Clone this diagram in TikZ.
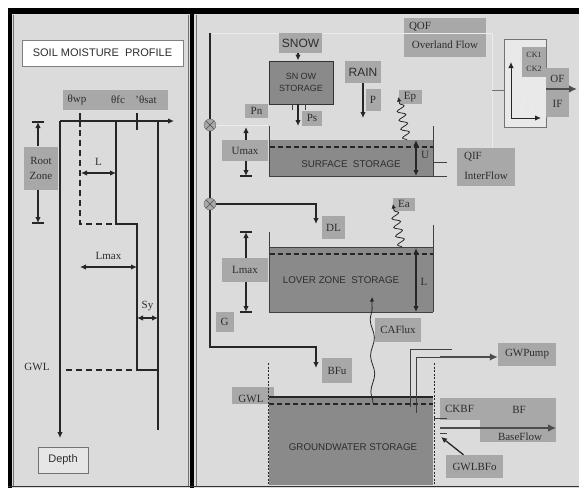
\documentclass[tikz,border=0pt]{standalone}
\usepackage{fontspec}
\setmainfont{Liberation Serif}
\setsansfont{Liberation Sans}
\usetikzlibrary{arrows.meta,decorations.pathmorphing,positioning}
\definecolor{panelgray}{RGB}{219,219,219}
\definecolor{labelgray}{RGB}{168,168,168}
\definecolor{tankgray}{RGB}{138,138,138}
\definecolor{inkgray}{RGB}{45,45,45}
\definecolor{faintgray}{RGB}{236,236,236}

\begin{document}
\begin{tikzpicture}[x=1pt, y=-1pt,
    font=\fontsize{11}{12}\selectfont,
    lbl/.style={fill=labelgray, inner sep=1pt, text=inkgray, align=center},
    sanslbl/.style={lbl, font=\sffamily\fontsize{12}{13}\selectfont},
    tank/.style={fill=tankgray, inner sep=0pt},
    tanktext/.style={text=inkgray, font=\sffamily\fontsize{9.8}{10}\selectfont},
    junc/.style={circle, draw=black!60, fill=labelgray, minimum size=12pt, inner sep=0pt,
      path picture={\draw[black!70] (path picture bounding box.north west) -- (path picture bounding box.south east)
        (path picture bounding box.north east) -- (path picture bounding box.south west);}},
    ln/.style={line width=1.3pt, black!85},
    arr/.style={ln, -{Latex[length=6pt, width=5.5pt]}},
    dblarr/.style={ln, {Latex[length=6pt, width=5.5pt]}-{Latex[length=6pt, width=5.5pt]}},
    wdash/.style={ln, dash pattern=on 5pt off 3pt},
    bigdash/.style={line width=1.9pt, black!85, dash pattern=on 6pt off 4pt},
    gwdot/.style={line width=1pt, black!85, dash pattern=on 2pt off 1.5pt},
    wave/.style={line width=0.8pt, black!85, decorate,
      decoration={snake, amplitude=4pt, segment length=9pt, post length=3pt},
      -{Latex[length=4.5pt, width=4.5pt]}},
    outflow/.style={line width=2.2pt, black!70, -{Latex[length=8pt, width=7.5pt]}},
    thinln/.style={line width=0.7pt, black!75}
  ]
  % frame
  \fill[white] (0,0) rectangle (579,488);
  \useasboundingbox (0,0) rectangle (579,488);
  \fill[panelgray] (8,8) rectangle (579,488);
  \fill[black] (8,8) rectangle (579,14);
  \fill[black] (8,8) rectangle (12,488);
  \fill[black] (190,14) rectangle (194,488);
  \draw[black!55, line width=0.6pt] (13.5,15) -- (13.5,486) (188,15) -- (188,486) (196,15) -- (196,486);
  \draw[black!80, line width=0.8pt] (8,486.5) -- (579,486.5);

  % ---------- soil moisture profile ----------
  \node[draw=black!50, fill=white, minimum width=161pt, minimum height=26pt, inner sep=0pt,
    text=inkgray, font=\sffamily\fontsize{11}{12}\selectfont] (title) at (102.5,53) {SOIL MOISTURE\ \ PROFILE};
  \node[lbl, minimum width=105pt, minimum height=20pt] (thetas) at (115.5,100) {};
  \node[text=inkgray, inner sep=0pt] (thwp) at (77,100) {θwp};
  \node[text=inkgray, inner sep=0pt] (thfc) at (118,100) {θfc};
  \node[text=inkgray, inner sep=0pt] (thsat) at (146,100) {'θsat};

  \coordinate (orig) at (60,121);
  \coordinate (thend) at (174,121);
  \coordinate (dpend) at (60,438);
  \draw[arr] (orig) -- (thend);
  \draw[arr] (orig) -- (dpend);

  % profile lines
  \draw[ln] (80,113) -- (80,127);
  \draw[bigdash] (80,130) -- (80,224) -- (116,224);
  \draw[ln] (116,121) -- (116,224) -- (137,224) -- (137,370);
  \draw[ln] (137,113) -- (137,130);
  \draw[ln] (158,121) -- (158,430);
  \draw[bigdash] (66,370) -- (137,370);
  \draw[ln] (137,370) -- (158,370);

  \draw[dblarr] (81,173) -- node[above=4pt, text=inkgray] (lsoil) {L} (116,173);
  \draw[dblarr] (80,267) -- node[above=3pt, text=inkgray] (lmaxsoil) {Lmax} (137,267);
  \draw[dblarr] (137,318) -- node[above=3pt, text=inkgray] (sy) {Sy} (158,318);

  \node[lbl, minimum width=34pt, minimum height=43pt, font=\fontsize{11}{15}\selectfont] (root) at (41,168) {Root\\Zone};
  \coordinate (roottop) at (38,122);
  \coordinate (rootbot) at (38,223);
  \draw[arr] (root.north -| roottop) -- (roottop);
  \draw[arr] (root.south -| rootbot) -- (rootbot);
  \draw[ln] ([xshift=-6pt]roottop) -- ([xshift=6pt]roottop);
  \draw[ln] ([xshift=-6pt]rootbot) -- ([xshift=6pt]rootbot);

  \node[text=inkgray, inner sep=0pt] (gwlsoil) at (37,367) {GWL};
  \node[draw=black!55, fill=panelgray!70!white, minimum width=50pt, minimum height=26pt, inner sep=0pt,
    text=inkgray, font=\sffamily\fontsize{11}{12}\selectfont] (depth) at (63,460) {Depth};

  % ---------- storages ----------
  \draw[faintgray, line width=0.8pt] (212,33) -- (492,33) -- (492,166);

  \node[tank, minimum width=164pt, minimum height=36pt] (surf) at (351,158) {};
  \node[tanktext] (surftext) at (351,164) {SURFACE\ \ STORAGE};
  \node[tank, minimum width=164pt, minimum height=65pt] (lower) at (351,279.5) {};
  \node[tanktext] (lowertext) at (341,280) {LOVER ZONE\ \ STORAGE};
  \node[lbl, minimum width=42pt, minimum height=17pt] (gwl) at (253,395) {};
  \node[text=inkgray, inner sep=0pt] at (251,399) {GWL};
  \node[tank, minimum width=164pt, minimum height=88pt] (ground) at (351,441) {};
  \node[tanktext] (groundtext) at (353,447) {GROUNDWATER STORAGE};

  % tank walls and levels
  \draw[thinln] (269,126) -- (269,176) -- (447,176);
  \draw[thinln] (433,126) -- (433,176);
  \draw[thinln] (433,162) -- (447,162);
  \draw[wdash] (270,147) -- (433,147);
  \draw[dblarr] (416,140) -- (416,176);
  \node[text=inkgray, inner sep=0pt] (u) at (425,155) {U};

  \draw[thinln] (269,232) -- (269,312) -- (433,312);
  \draw[thinln] (433,225) -- (433,312);
  \draw[thinln] (269,247) -- (433,247);
  \draw[wdash] (270,254) -- (433,254);
  \draw[dblarr] (416,248) -- (416,312);
  \node[text=inkgray, inner sep=0pt] (l) at (424,282) {L};

  \draw[ln] (269,397) -- (433,397);
  \draw[wdash] (269,404) -- (433,404);
  \draw[gwdot] (268,363) -- (268,486);
  \draw[gwdot] (434,363) -- (434,486);

  % ---------- snow and rain ----------
  \node[sanslbl, minimum width=43pt, minimum height=20pt] (snow) at (300.5,43) {SNOW};
  \node[draw=black!80, fill=tankgray, line width=0.9pt, minimum width=64pt, minimum height=43pt, inner sep=0pt,
    align=center, text=inkgray, font=\sffamily\fontsize{9}{12}\selectfont] (snowst) at (301,82.5) {SN OW\\STORAGE};
  \draw[arr] (snow.south -| 298,0) -- (snowst.north -| 298,0);
  \node[lbl, minimum width=20pt, minimum height=15pt] (ps) at (312,118) {Ps};
  \coordinate (psend) at (298,126);
  \draw[arr] (snowst.south -| psend) -- (psend);
  \draw[thinln] (292,104) -- (292,110) (305,104) -- (305,110);
  \node[lbl, minimum width=23pt, minimum height=14pt] (pn) at (256.5,111) {Pn};

  \node[sanslbl, minimum width=36pt, minimum height=22pt] (rain) at (363,72) {RAIN};
  \node[lbl, minimum width=15pt, minimum height=22pt] (p) at (373,100) {P};
  \coordinate (pend) at (363,118);
  \draw[arr] (rain.south -| pend) -- (pend);

  \node[lbl, minimum width=23pt, minimum height=14pt] (ep) at (410,97) {Ep};
  \coordinate (epbase) at (407,140);
  \draw[wave] (epbase) -- (ep.west);
  \node[lbl, minimum width=22pt, minimum height=13pt] (ea) at (404,204) {Ea};
  \coordinate (eabase) at (402,247);
  \draw[wave] (eabase) -- (ea.west);

  % ---------- routing line ----------
  \coordinate (vtop) at (210,33);
  \node[junc] (j1) at (210,125) {};
  \node[junc] (j2) at (210,204) {};
  \coordinate (vbot) at (210,347);
  \draw[ln] (vtop) -- (j1);
  \draw[ln] (j1) -- (j2);
  \draw[faintgray, line width=0.8pt] (j1) -- (268,125);

  \node[lbl, minimum width=23pt, minimum height=23pt] (dl) at (333.5,227.5) {DL};
  \coordinate (dlend) at (316,224);
  \draw[arr] (j2) -| (dlend);
  \node[lbl, minimum width=30pt, minimum height=25pt] (bfu) at (337,370.5) {BFu};
  \coordinate (bfuend) at (316,368);
  \draw[arr] (j2) -- (vbot) -| (bfuend);

  \node[lbl, minimum width=46pt, minimum height=21pt] (umax) at (245,150.5) {Umax};
  \coordinate (umaxtop) at (246,127);
  \coordinate (umaxbot) at (246,176);
  \draw[arr] (umax.north -| umaxtop) -- (umaxtop);
  \draw[arr] (umax.south -| umaxbot) -- (umaxbot);
  \draw[ln] ([xshift=-6pt]umaxbot) -- ([xshift=6pt]umaxbot);

  \node[lbl, minimum width=46pt, minimum height=24pt] (lmax) at (245,270) {Lmax};
  \coordinate (lmaxtop) at (246,232);
  \coordinate (lmaxbot) at (246,312);
  \draw[arr] (lmax.north -| lmaxtop) -- (lmaxtop);
  \draw[arr] (lmax.south -| lmaxbot) -- (lmaxbot);
  \draw[ln] ([xshift=-6pt]lmaxtop) -- ([xshift=6pt]lmaxtop);
  \draw[ln] ([xshift=-6pt]lmaxbot) -- ([xshift=6pt]lmaxbot);

  \node[lbl, minimum width=18pt, minimum height=20pt] (g) at (224.5,322) {G};

  % ---------- capillary flux ----------
  \node[lbl, minimum width=46pt, minimum height=24pt] (caflux) at (398,330) {CAFlux};
  \coordinate (cabase) at (373,403);
  \coordinate (catop) at (372,297);
  \draw[line width=0.8pt, black!85, decorate,
    decoration={snake, amplitude=2pt, segment length=36pt, post length=4pt},
    -{Latex[length=4.5pt, width=4.5pt]}] (cabase) -- (catop);

  % ---------- surface outflow ----------
  \node[lbl, minimum width=82pt, minimum height=15pt, text depth=0pt, align=left] (oof) at (445,25.5) {QOF\hspace{50pt}};
  \node[lbl, minimum width=82pt, minimum height=23pt] (overland) at (445,45) {Overland Flow};
  \node[lbl, minimum width=58pt, minimum height=19pt] (qif) at (486,157) {QIF\hspace{26pt}};
  \node[lbl, minimum width=58pt, minimum height=19pt] (interflow) at (486,176) {InterFlow};

  \node[draw=black!55, fill=panelgray!60!white, line width=0.8pt, minimum width=42pt, minimum height=88pt] (ck) at (525,83) {};
  \coordinate (ckorig) at (511,118);
  \coordinate (cky) at (511,62);
  \coordinate (ckx) at (541,118);
  \draw[white!80!labelgray, line width=0.6pt] (514,118) .. controls (524,118) and (523,92) .. (527,92) .. controls (531,92) and (530,118) .. (540,118);
  \draw[arr, line width=1pt] (ckorig) -- (cky);
  \draw[arr, line width=1pt] (ckorig) -- (ckx);
  \node[lbl, minimum width=24pt, minimum height=30pt, font=\fontsize{8}{14}\selectfont] (cklbl) at (534,62) {CK1\\CK2};
  \draw[black!55, line width=1pt] (492,90) -- (ck.west |- 0,90);

  \node[lbl, minimum width=23pt, minimum height=21pt] (of) at (557.5,78.5) {OF};
  \node[lbl, minimum width=23pt, minimum height=27pt] (if) at (557.5,103.5) {IF};
  \coordinate (ofend) at (577,89);
  \draw[outflow] (ck.east |- ofend) -- (ofend);

  % ---------- groundwater outflow ----------
  \draw[thinln] (410,407) -- (410,349) -- (452,349);
  \draw[thinln] (416,413) -- (416,357) -- (440,357);
  \node[lbl, minimum width=58pt, minimum height=23pt] (gwpump) at (527,354) {GWPump};
  \coordinate (pumpstart) at (440,357);
  \draw[outflow] (pumpstart) -- (gwpump.west |- pumpstart);

  \node[lbl, minimum width=40pt, minimum height=22pt] (ckbf) at (459.5,409) {CKBF};
  \node[lbl, minimum width=76pt, minimum height=44pt] (bf) at (518,420) {};
  \node[text=inkgray, inner sep=0pt] at (519,410) {BF};
  \node[text=inkgray, inner sep=0pt] at (520,437) {BaseFlow};
  \coordinate (bfstart) at (440,428);
  \draw[outflow] (bfstart) -- (bf.east |- bfstart);
  \draw[thinln] (434,418) -- (447,418) (440,433) -- (447,433);

  \node[lbl, minimum width=57pt, minimum height=23pt] (gwlbfo) at (474.5,466.5) {GWLBFo};
  \coordinate (gwlbfoend) at (441,437);
  \draw[arr] ([xshift=-11pt]gwlbfo.north) -- (gwlbfoend);
\end{tikzpicture}
\end{document}
